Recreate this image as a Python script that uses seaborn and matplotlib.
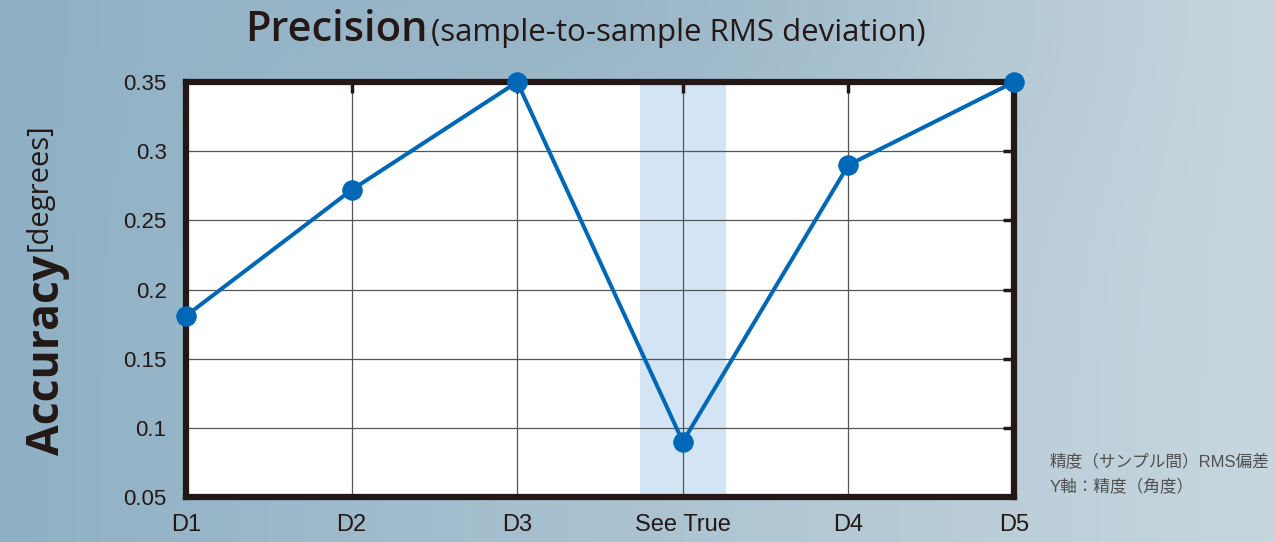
import matplotlib
matplotlib.use("Agg")
import matplotlib.pyplot as plt
import numpy as np
import pandas as pd
import seaborn as sns

categories = ["D1", "D2", "D3", "See True", "D4", "D5"]
precision = [0.181, 0.272, 0.350, 0.090, 0.290, 0.350]
y_ticks = [0.05, 0.1, 0.15, 0.2, 0.25, 0.3, 0.35]
y_tick_labels = ["0.05", "0.1", "0.15", "0.2", "0.25", "0.3", "0.35"]
highlight = "See True"
note_lines = ["精度（サンプル間）RMS偏差", "Y軸：精度（角度）"]

LINE = "#0068b7"
BAND = "#d3e5f5"
INK = "#231815"

sns.set_theme(style="white")
plt.rcParams["font.family"] = ["Open Sans", "Noto Sans CJK JP", "DejaVu Sans"]
TICK_FONT = ["Liberation Sans", "DejaVu Sans"]
NOTE_FONT = ["Liberation Sans", "Noto Sans CJK JP", "DejaVu Sans"]

df = pd.DataFrame({"sample": categories, "precision": precision})

fig = plt.figure(figsize=(12.75, 5.42), dpi=100)

# photo-like blue background
bg = fig.add_axes([0, 0, 1, 1], zorder=-10)
xx, yy = np.meshgrid(np.linspace(0, 1, 300), np.linspace(0, 1, 120))
left_col = np.array([0.56, 0.69, 0.77])
right_col = np.array([0.78, 0.84, 0.87])
mid_dark = np.array([0.54, 0.67, 0.75])
t = xx[..., None]
img = left_col * (1 - t) + right_col * t
band = np.exp(-((yy - 0.0) / 0.35) ** 2)[..., None] * np.exp(-((xx - 0.45) / 0.3) ** 2)[..., None]
img = img * (1 - 0.5 * band) + mid_dark * 0.5 * band
bg.imshow(img, aspect="auto", extent=[0, 1, 0, 1], origin="upper")
bg.set_axis_off()

ax = fig.add_axes([0.1459, 0.0830, 0.6494, 0.7657])
ax.set_facecolor("white")

pos = categories.index(highlight)
ax.axvspan(pos - 0.26, pos + 0.26, color=BAND, zorder=0, lw=0)

sns.lineplot(data=df, x="sample", y="precision", sort=False, ax=ax,
             color=LINE, lw=2.9, marker="o", markersize=14,
             markeredgecolor=LINE, clip_on=False, zorder=5)

ax.set_xlim(0, len(categories) - 1)
ax.set_ylim(0.05, 0.35)
ax.set_xticks(range(len(categories)))
ax.set_xticklabels(categories, fontsize=17, family=TICK_FONT)
ax.set_yticks(y_ticks)
ax.set_yticklabels(y_tick_labels, fontsize=16, family=TICK_FONT)
ax.grid(True, color="#555555", lw=0.9, zorder=1)
ax.set_axisbelow(True)
for s in ax.spines.values():
    s.set_color(INK)
    s.set_linewidth(4.5)
ax.tick_params(direction="in", length=8, width=2.5, color=INK,
               top=True, right=True, labelcolor=INK)
ax.tick_params(axis="y", pad=14)
ax.tick_params(axis="x", pad=12)
ax.set_xlabel("")
ax.set_ylabel("")

renderer = fig.canvas.get_renderer()
inv = fig.transFigure.inverted()

t1 = fig.text(245 / 1275, 0.945, "Precision", fontsize=30, fontweight="semibold",
              color=INK, ha="left", va="center")
bb = inv.transform(t1.get_window_extent(renderer))
fig.text(bb[1, 0] + 4 / 1275, 0.940, "(sample-to-sample RMS deviation)", fontsize=22.5,
         color=INK, ha="left", va="center")

t2 = fig.text(0.037, 1 - 455 / 542, "Accuracy", fontsize=32, fontweight="bold",
              color=INK, rotation=90, ha="center", va="bottom")
bb = inv.transform(t2.get_window_extent(renderer))
fig.text(0.031, bb[1, 1] + 4 / 542, "[degrees]", fontsize=21,
         color=INK, rotation=90, ha="center", va="bottom")

fig.text(1050 / 1275, 1 - 462 / 542, note_lines[0], fontsize=12, color="#505050",
         va="center", family=NOTE_FONT)
fig.text(1050 / 1275, 1 - 487 / 542, note_lines[1], fontsize=12, color="#505050",
         va="center", family=NOTE_FONT)

fig.savefig("out.png", dpi=100)
